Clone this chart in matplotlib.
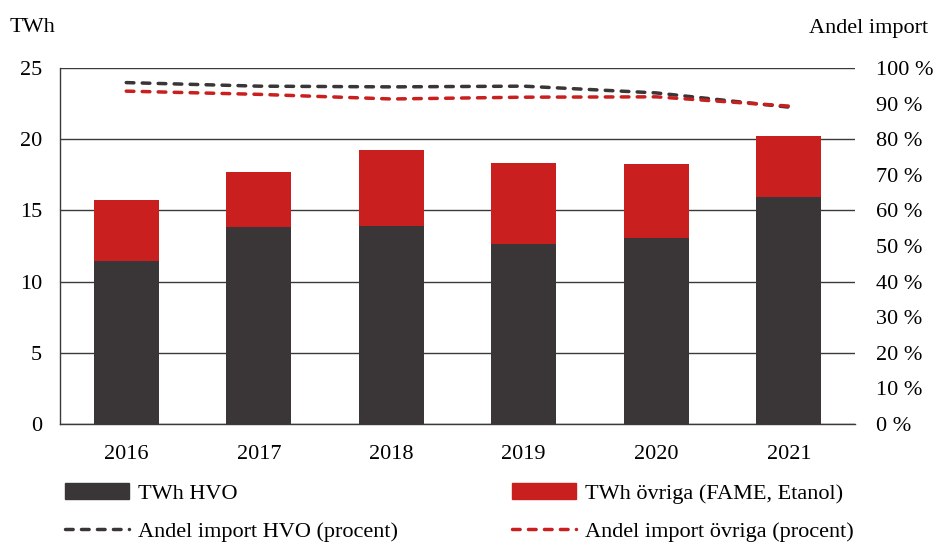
import numpy as np
import matplotlib.pyplot as plt
from matplotlib.lines import Line2D
from matplotlib.patches import Patch

plt.rcParams['font.family'] = ['Liberation Serif', 'DejaVu Serif']

years = ['2016', '2017', '2018', '2019', '2020', '2021']
hvo_twh = np.array([11.45, 13.85, 13.9, 12.65, 13.05, 15.95])
ovriga_twh = np.array([4.3, 3.85, 5.35, 5.7, 5.2, 4.3])
import_hvo = np.array([95.9, 94.9, 94.7, 94.9, 93.0, 89.0])
import_ovriga = np.array([93.5, 92.6, 91.3, 91.8, 91.9, 89.3])

dark = '#3a3536'
red = '#c91f1f'
fs = 16

fig = plt.figure(figsize=(9.36, 5.44), dpi=100)
ax = fig.add_axes([60/936, 1-424/544, (855-60)/936, (424-68)/544])
x = np.arange(len(years))

ax.bar(x, hvo_twh, width=0.49, color=dark, zorder=3)
ax.bar(x, ovriga_twh, bottom=hvo_twh, width=0.49, color=red, zorder=3)

ax.set_xlim(-0.5, 5.5)
ax.set_ylim(0, 25)
ax.set_yticks(np.arange(0, 26, 5))
ax.set_xticks(x, years)
ax.tick_params(axis='both', length=0, labelsize=fs)
ax.tick_params(axis='y', pad=13)
ax.tick_params(axis='x', pad=15)
ax.yaxis.grid(True, color='#3a3a3a', linewidth=1.0, zorder=0)
ax.set_axisbelow(True)
for s in ['top', 'right']:
    ax.spines[s].set_visible(False)
for s in ['left', 'bottom']:
    ax.spines[s].set_color('#3a3a3a')
    ax.spines[s].set_linewidth(1.0)

ax2 = ax.twinx()
ax2.set_ylim(0, 100)
ax2.set_yticks(np.arange(0, 101, 10))
ax2.set_yticklabels([f'{v} %' for v in range(0, 101, 10)])
ax2.tick_params(axis='y', length=0, labelsize=fs, pad=15)
for s in ax2.spines.values():
    s.set_visible(False)

dash_kw = dict(linewidth=2.5, linestyle=(0, (2.2, 2.4)), dash_capstyle='round')
ax2.plot(x, import_hvo, color=dark, zorder=4, **dash_kw)
ax2.plot(x, import_ovriga, color=red, zorder=5, **dash_kw)

fig.text(10/936, 1-28/544, 'TWh', fontsize=fs, va='center', ha='left')
fig.text(928/936, 1-28/544, 'Andel import', fontsize=fs, va='center', ha='right')

handles = [Patch(color=dark), Line2D([], [], color=dark, **dash_kw),
           Patch(color=red), Line2D([], [], color=red, **dash_kw)]
labels = ['TWh HVO', 'Andel import HVO (procent)',
          'TWh övriga (FAME, Etanol)', 'Andel import övriga (procent)']
fig.legend(handles, labels, ncol=2, loc='upper left', bbox_to_anchor=(65/936, 1-483/544),
           frameon=False, fontsize=fs, handlelength=2.9, handletextpad=0.4,
           columnspacing=5.1, labelspacing=0.8, borderaxespad=0, borderpad=0)

fig.savefig('out.png', dpi=100)
